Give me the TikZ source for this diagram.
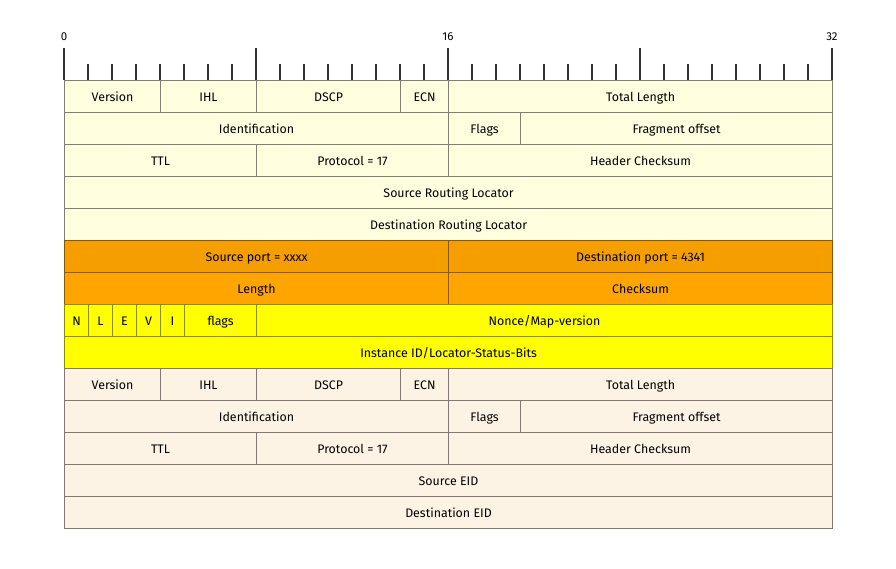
\documentclass[tikz,border=0pt]{standalone}
\usepackage{fontspec}
\setmainfont{Fira Sans}
\usepackage{tikz}
\usetikzlibrary{positioning}
\definecolor{outerhdr}{HTML}{FFFFE0}
\definecolor{udphdr}{HTML}{F59E00}
\definecolor{udphdrb}{HTML}{FFA500}
\definecolor{lisphdr}{HTML}{FFFF00}
\definecolor{innerhdr}{HTML}{FDF3E4}
\tikzset{
  cell/.style={rectangle, anchor=north west, minimum height=24pt, inner sep=0pt,
    text height=1.6ex, text depth=0.3ex,
    line width=0.8pt, font=\fontsize{9.3}{11}\selectfont},
  outer/.style={cell, fill=outerhdr, draw=outerhdr!50!black},
  udp/.style={cell, fill=udphdr, draw=udphdr!55!black},
  udpb/.style={cell, fill=udphdrb, draw=udphdrb!55!black},
  lisp/.style={cell, fill=lisphdr, draw=lisphdr!55!black},
  inner/.style={cell, fill=innerhdr, draw=innerhdr!50!black},
  tick/.style={line width=0.8pt, black!80},
  bitnum/.style={font=\fontsize{8.6}{10}\selectfont, anchor=base}
}
% one field: style, name, first bit, last bit, row, text
\newcommand{\fld}[6]{\node[#1, minimum width={(#4-#3)*18pt}] (#2) at (#3,#5) {#6};}

\begin{document}
\begin{tikzpicture}[x=18pt, y=-24pt]

  \useasboundingbox (-2.6667,-2.5) rectangle (34.6667,15.25);

  % ---- bit ruler ----
  \foreach \b in {0,...,32} \draw[tick] (\b,0) -- (\b,-0.5);
  \foreach \b in {0,8,16,24,32} \draw[tick] (\b,0) -- (\b,-1);
  \foreach \b in {0,16,32} \node[bitnum] (n\b) at (\b,-1.24) {\b};

  % ---- outer IPv4 header ----
  \fld{outer}{over}{0}{4}{0}{Version}
  \fld{outer}{oihl}{4}{8}{0}{IHL}
  \fld{outer}{odscp}{8}{14}{0}{DSCP}
  \fld{outer}{oecn}{14}{16}{0}{ECN}
  \fld{outer}{olen}{16}{32}{0}{Total Length}
  \fld{outer}{oid}{0}{16}{1}{Identification}
  \fld{outer}{oflags}{16}{19}{1}{Flags}
  \fld{outer}{ofrag}{19}{32}{1}{Fragment offset}
  \fld{outer}{ottl}{0}{8}{2}{TTL}
  \fld{outer}{oproto}{8}{16}{2}{Protocol = 17}
  \fld{outer}{ocsum}{16}{32}{2}{Header Checksum}
  \fld{outer}{osrc}{0}{32}{3}{Source Routing Locator}
  \fld{outer}{odst}{0}{32}{4}{Destination Routing Locator}

  % ---- UDP header ----
  \fld{udp}{usport}{0}{16}{5}{Source port = xxxx}
  \fld{udp}{udport}{16}{32}{5}{Destination port = 4341}
  \fld{udpb}{ulen}{0}{16}{6}{Length}
  \fld{udpb}{ucsum}{16}{32}{6}{Checksum}

  % ---- LISP header ----
  \fld{lisp}{ln}{0}{1}{7}{N}
  \fld{lisp}{ll}{1}{2}{7}{L}
  \fld{lisp}{le}{2}{3}{7}{E}
  \fld{lisp}{lv}{3}{4}{7}{V}
  \fld{lisp}{li}{4}{5}{7}{I}
  \fld{lisp}{lflags}{5}{8}{7}{flags}
  \fld{lisp}{lnonce}{8}{32}{7}{Nonce/Map-version}
  \fld{lisp}{liid}{0}{32}{8}{Instance ID/Locator-Status-Bits}

  % ---- inner IPv4 header ----
  \fld{inner}{iver}{0}{4}{9}{Version}
  \fld{inner}{iihl}{4}{8}{9}{IHL}
  \fld{inner}{idscp}{8}{14}{9}{DSCP}
  \fld{inner}{iecn}{14}{16}{9}{ECN}
  \fld{inner}{ilen}{16}{32}{9}{Total Length}
  \fld{inner}{iid}{0}{16}{10}{Identification}
  \fld{inner}{iflags}{16}{19}{10}{Flags}
  \fld{inner}{ifrag}{19}{32}{10}{Fragment offset}
  \fld{inner}{ittl}{0}{8}{11}{TTL}
  \fld{inner}{iproto}{8}{16}{11}{Protocol = 17}
  \fld{inner}{icsum}{16}{32}{11}{Header Checksum}
  \fld{inner}{isrc}{0}{32}{12}{Source EID}
  \fld{inner}{idst}{0}{32}{13}{Destination EID}

\end{tikzpicture}
\end{document}
